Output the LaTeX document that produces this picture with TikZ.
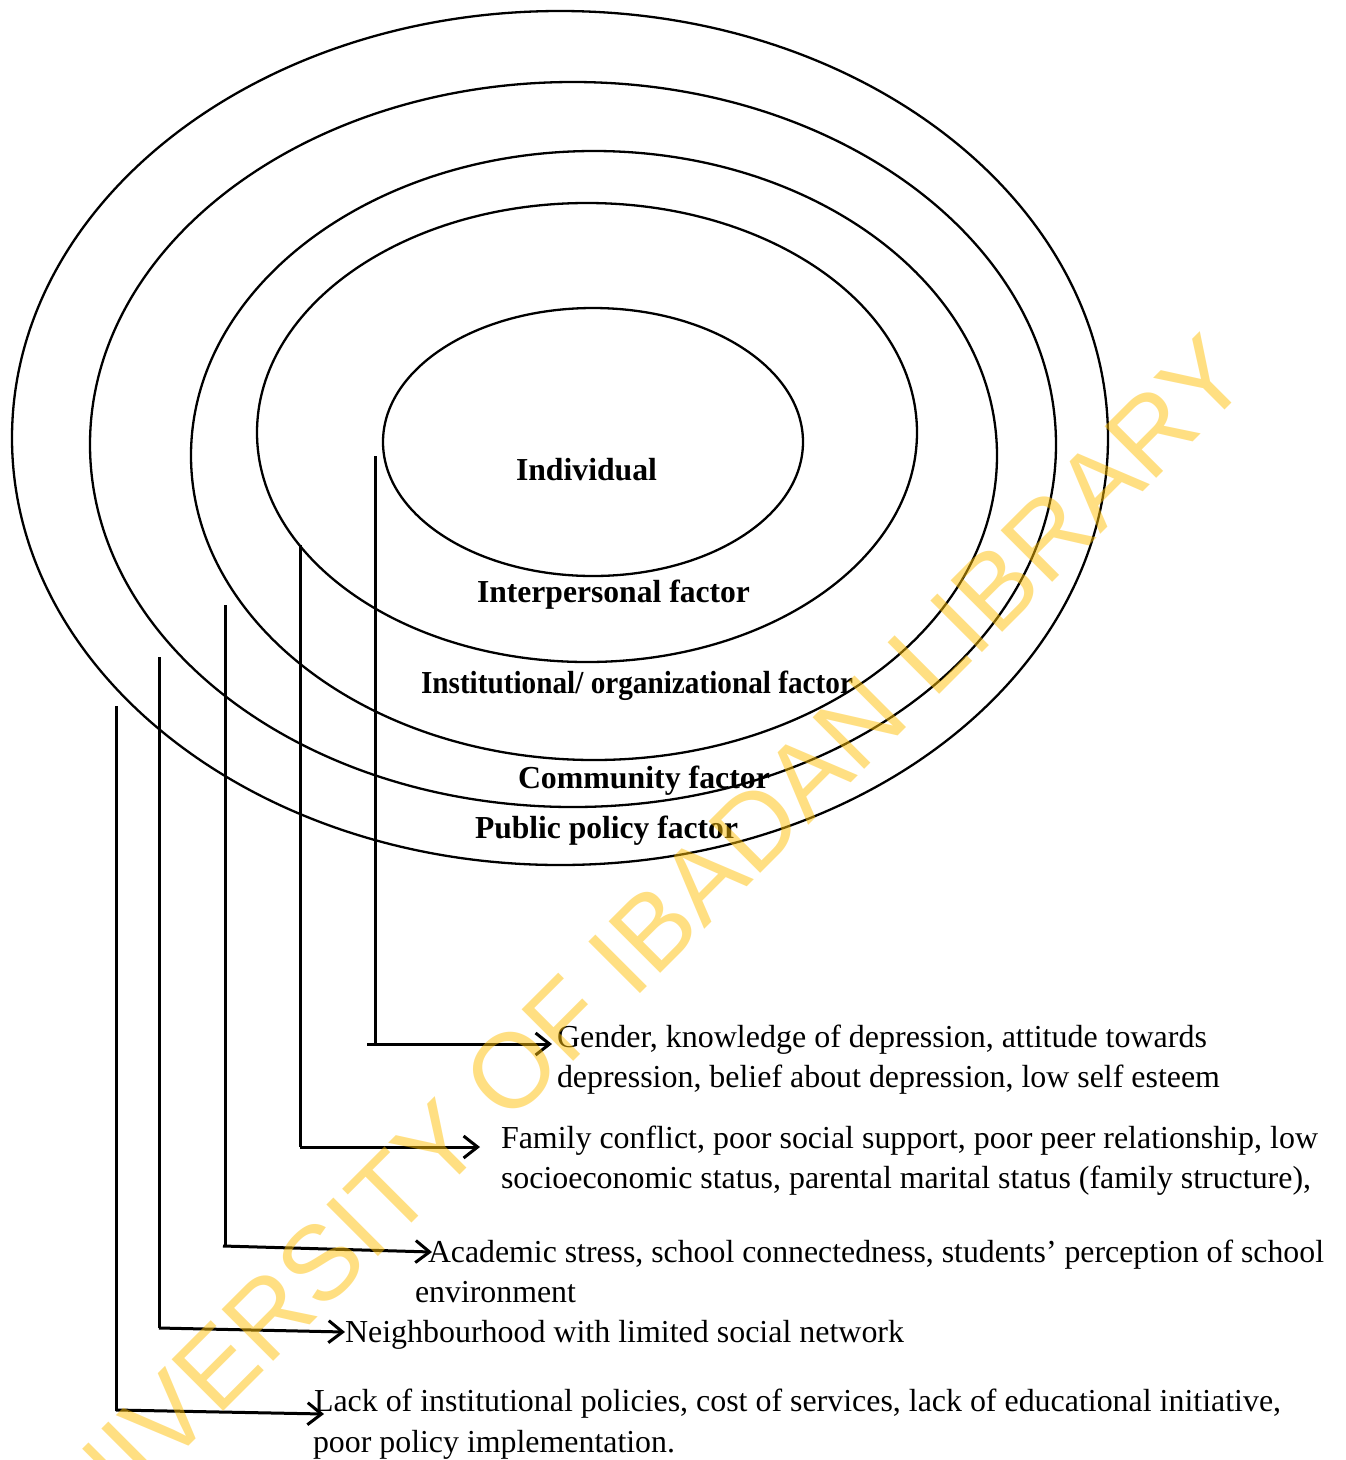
\documentclass[tikz,border=0pt]{standalone}
\usepackage{fontspec}
\setmainfont{Liberation Serif}
\newfontfamily\wmfont{Liberation Sans}
\usetikzlibrary{arrows.meta}
\definecolor{wmyellow}{RGB}{255,193,7}
\newcommand{\fitw}[2]{\resizebox{#1pt}{\height}{#2}}
\begin{document}
\begin{tikzpicture}[x=1pt,y=-1pt,
  every node/.style={inner sep=0pt, outer sep=0pt},
  ring/.style={draw, line width=2.3pt},
  lab/.style={font=\fontsize{32}{38}\selectfont\bfseries, anchor=base west},
  txt/.style={font=\fontsize{32}{38}\selectfont, anchor=base west},
  conn/.style={line width=3pt},
  arr/.style={conn, -{Straight Barb[length=14pt,width=22pt]}},
  wmark/.style={font=\wmfont\fontsize{106}{106}\selectfont, text=wmyellow, text opacity=0.5, rotate=45}]
\useasboundingbox (0,0) rectangle (1345,1460);
\fill[white] (0,0) rectangle (1345,1460);
% rings
\draw[ring] (560,438) ellipse [x radius=548, y radius=427];
\draw[ring] (573,444.5) ellipse [x radius=483, y radius=362.5];
\draw[ring] (594,455.5) ellipse [x radius=403, y radius=304.5];
\draw[ring] (587,432.5) ellipse [x radius=330, y radius=229.5];
\draw[ring] (593,442) ellipse [x radius=210, y radius=134];
% ring labels
\node[lab] (ind) at (516,480) {\fitw{141}{Individual}};
\node[lab] (inter) at (477,602) {\fitw{273}{Interpersonal factor}};
\node[lab] (inst) at (421,693) {\fitw{432}{Institutional/ organizational factor}};
\node[lab] (comm) at (518,788) {\fitw{252}{Community factor}};
\node[lab] (pub) at (475,838) {\fitw{263}{Public policy factor}};
% descriptions
\node[txt] (g1) at (557,1047) {\fitw{650}{Gender, knowledge of depression, attitude towards}};
\node[txt] (g2) at (557,1087) {\fitw{663}{depression, belief about depression, low self esteem}};
\node[txt] (f1) at (501,1148) {\fitw{817}{Family conflict, poor social support, poor peer relationship, low}};
\node[txt] (f2) at (501,1188) {\fitw{810}{socioeconomic status, parental marital status (family structure),}};
\node[txt] (a1) at (428,1262) {\fitw{896}{Academic stress, school connectedness, students’ perception of school}};
\node[txt] (a2) at (415,1302) {\fitw{161}{environment}};
\node[txt] (n1) at (345,1342) {\fitw{559}{Neighbourhood with limited social network}};
\node[txt] (l1) at (314,1411) {\fitw{967}{Lack of institutional policies, cost of services, lack of educational initiative,}};
\node[txt] (l2) at (313,1452) {\fitw{362}{poor policy implementation.}};
% connectors
\coordinate (t1) at (375,456);  \coordinate (b1) at (375,1044);
\coordinate (t2) at (300,545);  \coordinate (b2) at (300,1147);
\coordinate (t3) at (225,605);  \coordinate (b3) at (225,1246);
\coordinate (t4) at (159,657);  \coordinate (b4) at (159,1328);
\coordinate (t5) at (116,706);  \coordinate (b5) at (116,1411);
\draw[conn] (t1) -- (b1);
\draw[arr] ([xshift=-8pt]b1) -- ([shift={(-5,-3)}]g1.base west);
\draw[conn] (t2) -- (b2);
\draw[arr] (b2) -- ([shift={(-21,-1)}]f1.base west);
\draw[conn] (t3) -- (b3);
\draw[arr] ([xshift=-2pt]b3) -- ([shift={(4,-10)}]a1.base west);
\draw[conn] (t4) -- (b4);
\draw[arr] (b4) -- ([shift={(0,-10)}]n1.base west);
\draw[conn] (t5) -- (b5);
\draw[arr] ([yshift=1pt]b5) -- ([shift={(10,3)}]l1.base west);
% watermark
\node[wmark] (wm) at (620,963) {UNIVERSITY OF IBADAN LIBRARY};
\end{tikzpicture}
\end{document}
